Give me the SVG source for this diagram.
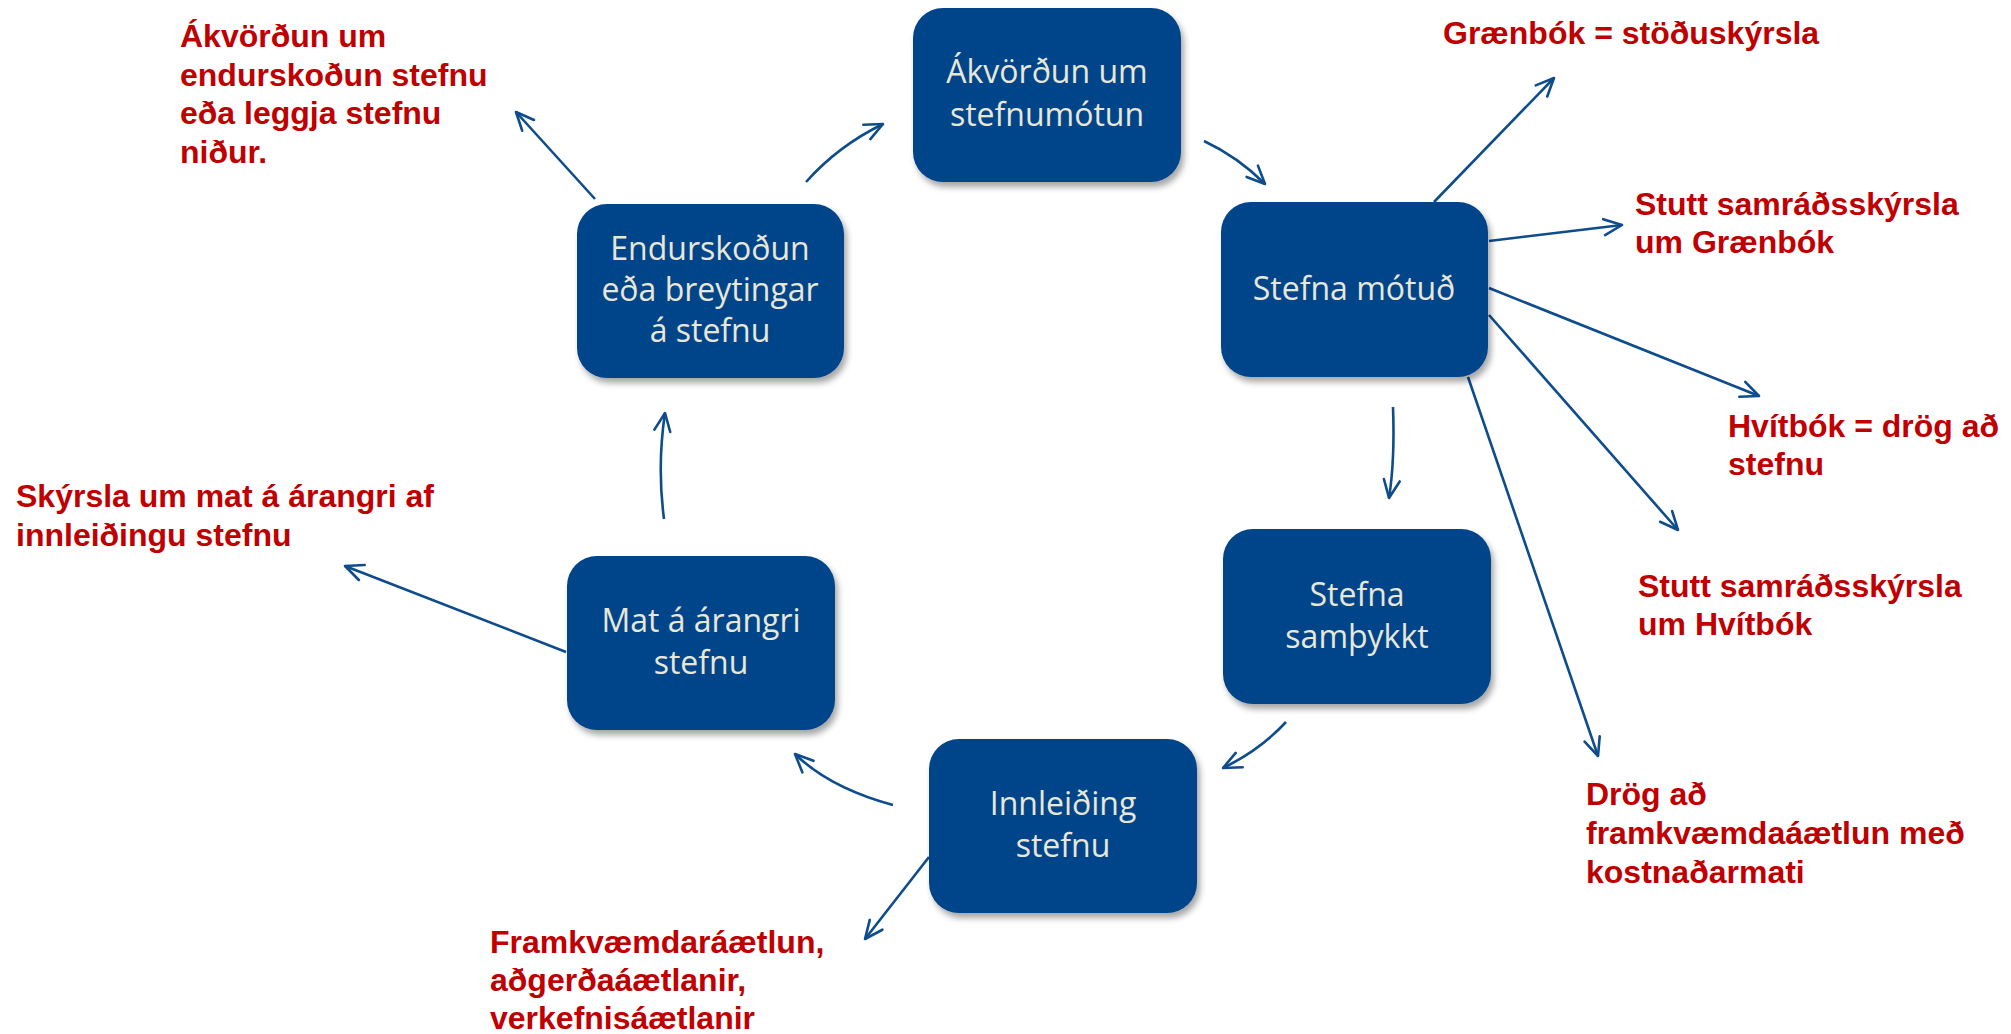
<svg xmlns="http://www.w3.org/2000/svg" width="2011" height="1034" viewBox="0 0 2011 1034">
<defs>
<filter id="sh" x="-10%" y="-10%" width="130%" height="130%">
<feDropShadow dx="3" dy="5" stdDeviation="3" flood-color="#000" flood-opacity="0.35"/>
</filter>
<marker id="ah" viewBox="0 0 22 22" refX="20" refY="11" markerWidth="22" markerHeight="22" markerUnits="userSpaceOnUse" orient="auto">
<path d="M2,3 L20,11 L2,19" fill="none" stroke="#0E4C8C" stroke-width="2.6" stroke-linecap="round" stroke-linejoin="round"/>
</marker>
<style>
.box{fill:#03458A;filter:url(#sh)}
.bt{font-family:"Open Sans","Noto Sans",sans-serif;font-size:32px;fill:#E9E7D7;text-anchor:middle}
.rt{font-family:"Liberation Sans",Arial,sans-serif;font-size:32px;font-weight:bold;fill:#C00000}
.c{fill:none;stroke:#0E4C8C;stroke-width:2.6;marker-end:url(#ah)}
</style>
</defs>
<rect width="2011" height="1034" fill="#fff"/>
<g id="connectors">
<path class="c" d="M806,182 Q838,146 883,124"/>
<path class="c" d="M1204,141 Q1238,157 1265,184"/>
<path class="c" d="M1393,407 Q1395,460 1389,498"/>
<path class="c" d="M1286,722 Q1260,750 1223,768"/>
<path class="c" d="M893,805 Q830,788 795,754"/>
<path class="c" d="M664,519 Q657,466 665,413"/>
<path class="c" d="M595,199 L516,112"/>
<path class="c" d="M566,652 L345,566"/>
<path class="c" d="M929,857 L865,939"/>
<path class="c" d="M1434,202 L1554,78"/>
<path class="c" d="M1489,241 L1622,225"/>
<path class="c" d="M1489,288 L1759,396"/>
<path class="c" d="M1489,315 L1678,530"/>
<path class="c" d="M1468,377 L1598,756"/>
</g>
<g id="n1"><rect class="box" x="913" y="8" width="268" height="174" rx="30"/><text class="bt" x="1047"><tspan x="1047" y="83">Ákvörðun um</tspan><tspan x="1047" y="126">stefnumótun</tspan></text></g>
<g id="n2"><rect class="box" x="1221" y="202" width="267" height="175" rx="30"/><text class="bt" x="1354" y="300">Stefna mótuð</text></g>
<g id="n3"><rect class="box" x="1223" y="529" width="268" height="175" rx="30"/><text class="bt" x="1357"><tspan x="1357" y="606">Stefna</tspan><tspan x="1357" y="648">samþykkt</tspan></text></g>
<g id="n4"><rect class="box" x="929" y="739" width="268" height="174" rx="30"/><text class="bt" x="1063"><tspan x="1063" y="815">Innleiðing</tspan><tspan x="1063" y="857">stefnu</tspan></text></g>
<g id="n5"><rect class="box" x="567" y="556" width="268" height="174" rx="30"/><text class="bt" x="701"><tspan x="701" y="632">Mat á árangri</tspan><tspan x="701" y="674">stefnu</tspan></text></g>
<g id="n6"><rect class="box" x="577" y="204" width="267" height="174" rx="30"/><text class="bt" x="710"><tspan x="710" y="260">Endurskoðun</tspan><tspan x="710" y="301">eða breytingar</tspan><tspan x="710" y="342">á stefnu</tspan></text></g>
<g id="labels">
<text class="rt"><tspan x="180" y="47">Ákvörðun um</tspan><tspan x="180" y="85.5">endurskoðun stefnu</tspan><tspan x="180" y="124">eða leggja stefnu</tspan><tspan x="180" y="162.5">niður.</tspan></text>
<text class="rt"><tspan x="16" y="507">Skýrsla um mat á árangri af</tspan><tspan x="16" y="546">innleiðingu stefnu</tspan></text>
<text class="rt"><tspan x="490" y="953">Framkvæmdaráætlun,</tspan><tspan x="490" y="991">aðgerðaáætlanir,</tspan><tspan x="490" y="1029">verkefnisáætlanir</tspan></text>
<text class="rt" x="1443" y="44">Grænbók = stöðuskýrsla</text>
<text class="rt"><tspan x="1635" y="215">Stutt samráðsskýrsla</tspan><tspan x="1635" y="253">um Grænbók</tspan></text>
<text class="rt"><tspan x="1728" y="437">Hvítbók = drög að</tspan><tspan x="1728" y="475">stefnu</tspan></text>
<text class="rt"><tspan x="1638" y="597">Stutt samráðsskýrsla</tspan><tspan x="1638" y="635">um Hvítbók</tspan></text>
<text class="rt"><tspan x="1586" y="805">Drög að</tspan><tspan x="1586" y="844">framkvæmdaáætlun með</tspan><tspan x="1586" y="883">kostnaðarmati</tspan></text>
</g>
</svg>
